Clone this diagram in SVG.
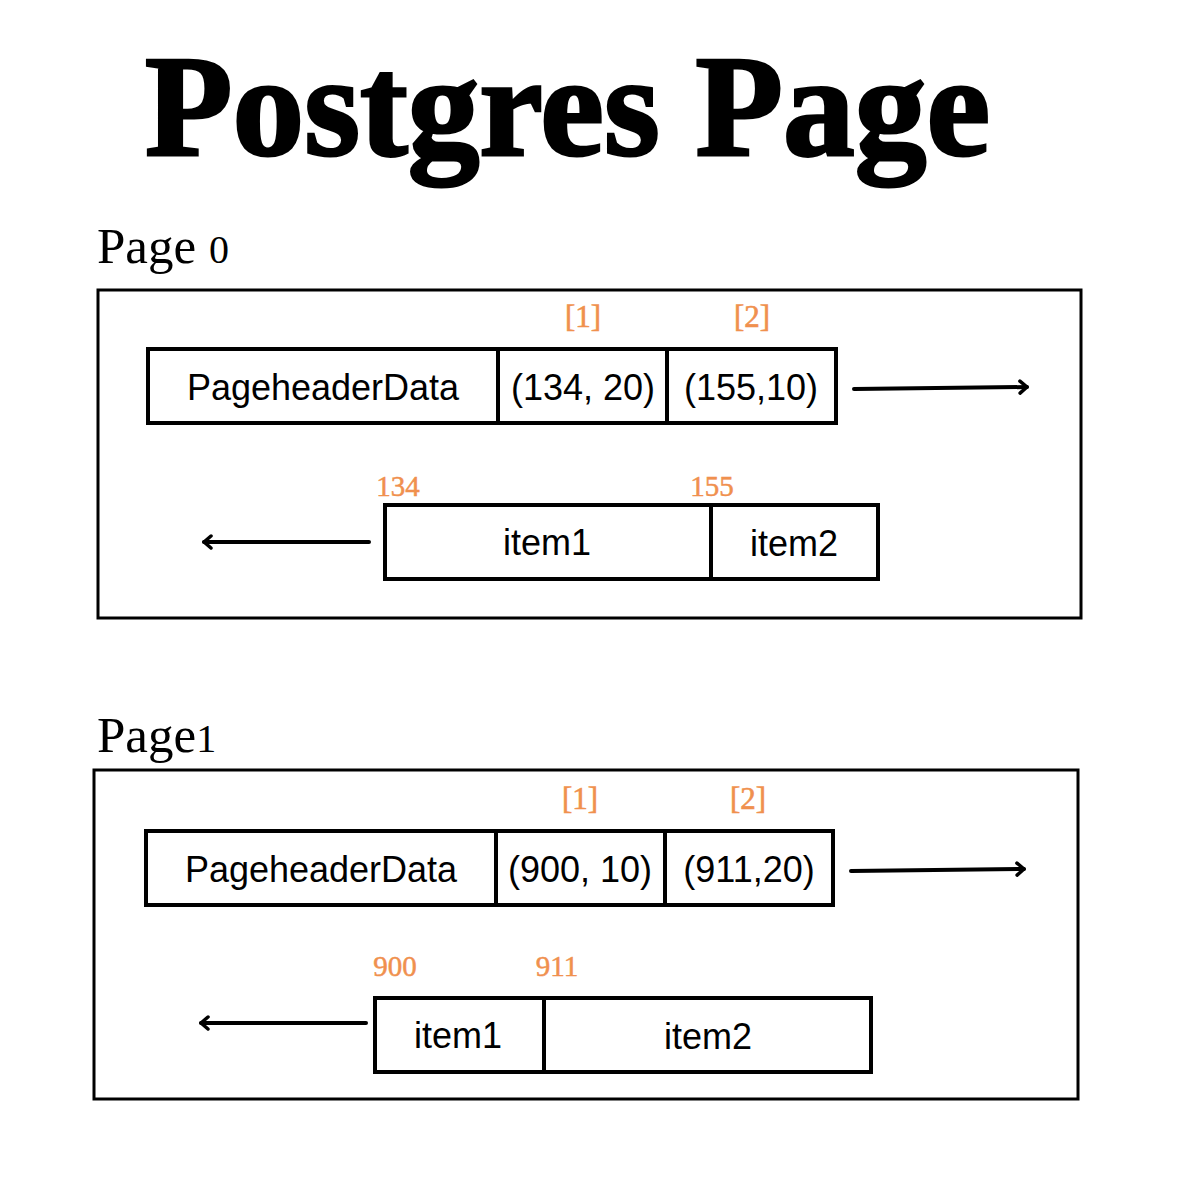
<svg xmlns="http://www.w3.org/2000/svg" width="1200" height="1200" viewBox="0 0 1200 1200">
<defs>
<style>
.title{font-family:"Liberation Serif","DejaVu Serif",serif;font-weight:bold;font-size:143px;fill:#000;stroke:#000;stroke-width:3px}
.plabel{font-family:"Liberation Serif","DejaVu Serif",serif;font-size:51px;fill:#000}
.osf{font-size:40px}
.frame{fill:#fff;stroke:#000;stroke-width:3}
.cell{fill:#fff;stroke:#000;stroke-width:4}
.txt{font-family:"Liberation Sans","Arial",sans-serif;font-size:36px;fill:#000;text-anchor:middle}
.idx{font-family:"Liberation Serif","DejaVu Serif",serif;font-size:31px;fill:#F0904E;stroke:#F0904E;stroke-width:0.6px;text-anchor:middle}
.off{font-family:"Liberation Serif","DejaVu Serif",serif;font-size:29px;fill:#F0904E;stroke:#F0904E;stroke-width:0.5px;text-anchor:middle}
.conn{stroke:#000;stroke-width:4;fill:none;stroke-linecap:round}
</style>
<marker id="ah" viewBox="0 0 12 16" refX="10" refY="8" markerWidth="12" markerHeight="16" markerUnits="userSpaceOnUse" orient="auto">
<path d="M3,2 L10,8 L3,14" fill="none" stroke="#000" stroke-width="3.5" stroke-linecap="round" stroke-linejoin="round"/>
</marker>
</defs>
<rect width="1200" height="1200" fill="#fff"/>
<text class="title" x="145" y="155" textLength="845" lengthAdjust="spacingAndGlyphs">Postgres Page</text>

<g id="page0">
<text class="plabel" x="97" y="263">Page <tspan class="osf">0</tspan></text>
<rect class="frame" x="98" y="290" width="983" height="328"/>
</g>
<g id="p0-header">
<rect class="cell" x="148" y="349" width="350" height="74"/>
<text class="txt" x="323" y="400">PageheaderData</text>
</g>
<g id="p0-lp1">
<rect class="cell" x="498" y="349" width="169" height="74"/>
<text class="txt" x="583" y="400">(134, 20)</text>
<text class="idx" x="583" y="327">[1]</text>
</g>
<g id="p0-lp2">
<rect class="cell" x="667" y="349" width="169" height="74"/>
<text class="txt" x="751" y="400">(155,10)</text>
<text class="idx" x="752" y="327">[2]</text>
</g>
<g id="p0-item1">
<rect class="cell" x="385" y="505" width="326" height="74"/>
<text class="txt" x="547" y="555">item1</text>
<text class="off" x="398" y="496">134</text>
</g>
<g id="p0-item2">
<rect class="cell" x="711" y="505" width="167" height="74"/>
<text class="txt" x="794" y="556">item2</text>
<text class="off" x="712" y="496">155</text>
</g>

<g id="page1">
<text class="plabel" x="97" y="752">Page<tspan class="osf">1</tspan></text>
<rect class="frame" x="94" y="770" width="984" height="329"/>
</g>
<g id="p1-header">
<rect class="cell" x="146" y="831" width="350" height="74"/>
<text class="txt" x="321" y="882">PageheaderData</text>
</g>
<g id="p1-lp1">
<rect class="cell" x="496" y="831" width="169" height="74"/>
<text class="txt" x="580" y="882">(900, 10)</text>
<text class="idx" x="580" y="809">[1]</text>
</g>
<g id="p1-lp2">
<rect class="cell" x="665" y="831" width="168" height="74"/>
<text class="txt" x="749" y="882">(911,20)</text>
<text class="idx" x="748" y="809">[2]</text>
</g>
<g id="p1-item1">
<rect class="cell" x="375" y="998" width="169" height="74"/>
<text class="txt" x="458" y="1048">item1</text>
<text class="off" x="395" y="976">900</text>
</g>
<g id="p1-item2">
<rect class="cell" x="544" y="998" width="327" height="74"/>
<text class="txt" x="708" y="1049">item2</text>
<text class="off" x="557" y="976">911</text>
</g>

<g id="connectors">
<line class="conn" x1="854" y1="389" x2="1027" y2="387" marker-end="url(#ah)"/>
<line class="conn" x1="369" y1="542" x2="204" y2="542" marker-end="url(#ah)"/>
<line class="conn" x1="851" y1="871" x2="1024" y2="869" marker-end="url(#ah)"/>
<line class="conn" x1="366" y1="1023" x2="201" y2="1023" marker-end="url(#ah)"/>
</g>
</svg>
